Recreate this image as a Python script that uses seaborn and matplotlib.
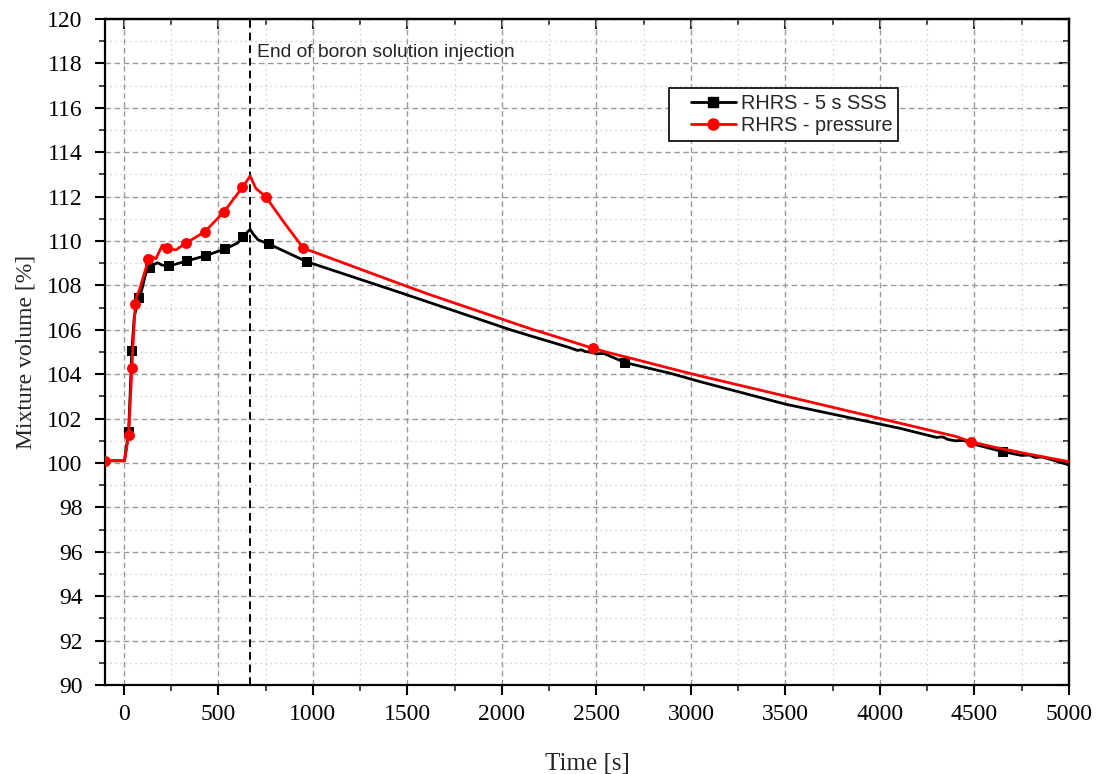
import numpy as np
import pandas as pd
import matplotlib
matplotlib.use("Agg")
import matplotlib.pyplot as plt
import seaborn as sns
from matplotlib.lines import Line2D
from matplotlib.legend_handler import HandlerLine2D
from matplotlib.ticker import MultipleLocator

# ---------------- data ----------------
# RHRS - 5 s SSS (black)
t_sss = [-100, 3, 25, 42, 55, 78, 90, 116, 139, 160, 178, 200, 236, 333, 433, 534,
         600, 632, 655, 668, 685, 710, 768, 967, 1464, 2045, 2204, 2350, 2400, 2420,
         2440, 2470, 2500, 2540, 2653, 2891, 3050, 3500, 4107, 4300, 4330, 4360, 4400,
         4440, 4500, 4650, 4750, 4790, 4820, 4860, 4900, 5000]
v_sss = [100.1, 100.1, 101.41, 105.05, 106.6, 107.42, 107.65, 108.55, 108.77, 108.95,
         109.02, 108.92, 108.87, 109.1, 109.34, 109.64, 109.9, 110.19, 110.42, 110.52,
         110.3, 110.05, 109.86, 109.07, 107.67, 106.0, 105.59, 105.22, 105.07, 105.1,
         105.02, 104.99, 104.92, 104.93, 104.52, 104.04, 103.66, 102.65, 101.56, 101.15,
         101.18, 101.06, 101.0, 101.02, 100.84, 100.51, 100.34, 100.36, 100.25, 100.27,
         100.17, 99.91]
mark_t_sss = [25, 42, 78, 139, 236, 333, 433, 534, 632, 768, 967, 2653, 4650]
mark_v_sss = [101.41, 105.05, 107.42, 108.77, 108.87, 109.1, 109.34, 109.64, 110.19,
              109.86, 109.07, 104.52, 100.51]

# RHRS - pressure (red)
t_prs = [-100, 3, 25, 42, 60, 70, 78, 100, 130, 143, 169, 204, 227, 275, 328, 428, 527,
         627, 650, 668, 698, 750, 850, 950, 1000, 1464, 1623, 2167, 2204, 2480, 2560,
         2616, 2700, 2891, 3050, 4107, 4300, 4400, 4480, 4600, 4700, 4800, 5000]
v_prs = [100.1, 100.1, 101.25, 104.28, 107.15, 107.6, 107.7, 108.3, 109.18, 109.32,
         109.2, 109.82, 109.67, 109.6, 109.9, 110.42, 111.29, 112.42, 112.7, 112.93,
         112.37, 112.0, 110.8, 109.67, 109.52, 108.06, 107.57, 106.0, 105.91, 105.17,
         104.98, 104.86, 104.68, 104.26, 103.92, 101.79, 101.4, 101.2, 100.96, 100.72,
         100.55, 100.38, 100.06]
mark_t_prs = [-100, 25, 42, 60, 130, 227, 328, 428, 527, 627, 750, 950, 2480, 4480]
mark_v_prs = [100.1, 101.25, 104.28, 107.15, 109.18, 109.67, 109.9, 110.42, 111.29,
              112.42, 112.0, 109.67, 105.17, 100.96]

labels = ["RHRS - 5 s SSS", "RHRS - pressure"]
x_ticks = [0, 500, 1000, 1500, 2000, 2500, 3000, 3500, 4000, 4500, 5000]
y_ticks = [90, 92, 94, 96, 98, 100, 102, 104, 106, 108, 110, 112, 114, 116, 118, 120]
injection_end = 668
annotation = "End of boron solution injection"

# ---------------- style ----------------
sns.set_style("white")
plt.rcParams["font.family"] = ["Liberation Serif", "DejaVu Serif"]

W, H = 1103, 774
fig = plt.figure(figsize=(W / 100, H / 100), dpi=100)
L, R, T, B = 105, 1069, 19, 685
ax = fig.add_axes([L / W, 1 - B / H, (R - L) / W, (B - T) / H])

df_sss = pd.DataFrame({"t": t_sss, "v": v_sss})
df_prs = pd.DataFrame({"t": t_prs, "v": v_prs})

sns.lineplot(data=df_sss, x="t", y="v", ax=ax, color="black", lw=2.0,
             sort=False, estimator=None, zorder=3)
sns.scatterplot(x=mark_t_sss, y=mark_v_sss, ax=ax, marker="s", s=45, color="black",
                edgecolor="black", linewidth=0, zorder=4)
sns.lineplot(data=df_prs, x="t", y="v", ax=ax, color="#ff0000", lw=2.0,
             sort=False, estimator=None, zorder=5)
sns.scatterplot(x=mark_t_prs, y=mark_v_prs, ax=ax, marker="o", s=62, color="#ff0000",
                edgecolor="#ff0000", linewidth=0, zorder=6)

ax.axvline(injection_end, color="black", ls=(0, (4, 2.5)), lw=1.4, zorder=2)
ax.text(703, 118.3, annotation, family=["Liberation Sans", "DejaVu Sans"],
        fontsize=13.9, va="baseline", ha="left")

ax.set_xlim(-100, 5000)
ax.set_ylim(90, 120)
ax.set_xticks(x_ticks)
ax.set_yticks(y_ticks)
ax.xaxis.set_minor_locator(MultipleLocator(250))
ax.yaxis.set_minor_locator(MultipleLocator(1))

ax.grid(which="major", ls=(0, (4, 2.5)), color="#9a9a9a", lw=1.0, zorder=0)
ax.grid(which="minor", ls=(0, (1, 3)), color="#c4c4c4", lw=0.9, zorder=0)
ax.set_axisbelow(True)

for s in ax.spines.values():
    s.set_linewidth(1.6)
    s.set_color("black")

ax.tick_params(which="major", direction="out", length=7, width=1.5, labelsize=17,
               top=False, right=False, bottom=True, left=True, colors="black")
ax.tick_params(which="minor", direction="out", length=4, width=1.2,
               top=False, right=False, bottom=True, left=True)
ax.tick_params(axis="y", which="major", pad=9)
ax.tick_params(axis="x", which="major", pad=7)

# top and right inward ticks
sec_x = ax.secondary_xaxis("top")
sec_x.set_xticks(x_ticks)
sec_x.xaxis.set_minor_locator(MultipleLocator(250))
sec_x.tick_params(which="major", direction="in", length=7, width=1.5, labeltop=False)
sec_x.tick_params(which="minor", direction="in", length=4, width=1.2)
sec_x.spines["top"].set_linewidth(1.6)
sec_y = ax.secondary_yaxis("right")
sec_y.set_yticks(y_ticks)
sec_y.yaxis.set_minor_locator(MultipleLocator(1))
sec_y.tick_params(which="major", direction="in", length=7, width=1.5, labelright=False)
sec_y.tick_params(which="minor", direction="in", length=4, width=1.2)
sec_y.spines["right"].set_linewidth(1.6)

ax.set_xlabel("Time [s]", fontsize=18, labelpad=20)
ax.set_ylabel("Mixture volume [%]", fontsize=17, labelpad=8)


class OffsetHandler(HandlerLine2D):
    """Leave some empty room before the legend line, as in the reference."""

    def create_artists(self, legend, orig_handle, xdescent, ydescent, width, height,
                       fontsize, trans):
        off = 0.26 * width
        arts = super().create_artists(legend, orig_handle, xdescent, ydescent,
                                      width - off, height, fontsize, trans)
        for a in arts:
            a.set_xdata(np.asarray(a.get_xdata()) + off)
        return arts


handles = [
    Line2D([], [], color="black", lw=2.0, marker="s", ms=6.5),
    Line2D([], [], color="#ff0000", lw=2.0, marker="o", ms=8),
]
leg = ax.legend(handles, labels, loc="upper left",
                bbox_to_anchor=(669 / W, 1 - 88 / H), bbox_transform=fig.transFigure,
                borderaxespad=0, frameon=True, fancybox=False, framealpha=1,
                edgecolor="black", handlelength=3.1, handletextpad=0.25,
                labelspacing=0.18, borderpad=0.28,
                handler_map={Line2D: OffsetHandler()},
                prop={"family": ["Liberation Sans", "DejaVu Sans"], "size": 14.3})
leg.get_frame().set_linewidth(1.2)

fig.savefig("out.png", dpi=100)
